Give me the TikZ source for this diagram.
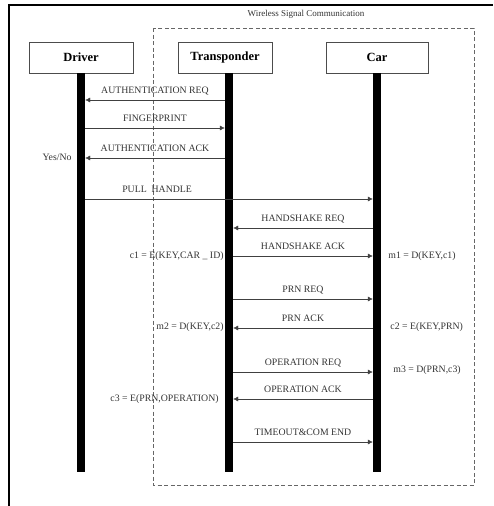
\documentclass[tikz,border=0pt]{standalone}
\usepackage{fontspec}
\setmainfont{Liberation Serif}
\usetikzlibrary{arrows.meta}

\tikzset{
  actor/.style={draw=black!70, thin, minimum height=31pt, font=\fontsize{12.5}{14}\selectfont\bfseries},
  lifeline/.style={fill=black, inner sep=0pt, minimum width=8pt, minimum height=399pt},
  msg/.style={draw=black!75, thin, -{Latex[length=5pt,width=5pt]}},
  lbl/.style={font=\fontsize{9.8}{11}\selectfont, text=black!80, anchor=base, yshift=6.5pt},
  side/.style={font=\fontsize{9.8}{11}\selectfont, text=black!80, inner sep=1pt}
}

\begin{document}
\begin{tikzpicture}[x=1pt, y=-1pt]
    \useasboundingbox (0,0) rectangle (493,506);

    % Frame
    \draw[line width=1.6pt] (9,506) -- (9,5) -- (493,5);

    % Wireless area
    \draw[black!60, dash pattern=on 4pt off 2.5pt, thin] (153,28) rectangle (474,485);
    \node[font=\fontsize{9}{10}\selectfont, text=black!80] (wsc) at (306,14) {Wireless Signal Communication};

    % Actors
    \node[actor, minimum width=104pt] (drv) at (81,57.5) {Driver};
    \node[actor, minimum width=94pt] (trp) at (225,57.5) {Transponder};
    \node[actor, minimum width=102pt] (car) at (377,57.5) {Car};

    % Lifelines
    \node[lifeline] (dl) at (81,272.5) {};
    \node[lifeline] (tl) at (229,272.5) {};
    \node[lifeline] (cl) at (377,272.5) {};

    % Driver <-> Transponder
    \draw[msg] (tl.west |- 0,100) -- (dl.east |- 0,100) node[lbl, midway] {AUTHENTICATION REQ};
    \draw[msg] (dl.east |- 0,128) -- (tl.west |- 0,128) node[lbl, midway] {FINGERPRINT};
    \draw[msg] (tl.west |- 0,158) -- (dl.east |- 0,158) node[lbl, midway] {AUTHENTICATION ACK};
    \node[side, anchor=east] (yn) at ([xshift=-4pt]dl.west |- 0,157) {Yes/No};

    % Driver -> Car
    \draw[msg] (dl.east |- 0,199) -- (cl.west |- 0,199) node[lbl, pos=0.25] {PULL\ \ HANDLE};

    % Transponder <-> Car
    \draw[msg] (cl.west |- 0,228) -- (tl.east |- 0,228) node[lbl, midway] {HANDSHAKE REQ};
    \draw[msg] (tl.east |- 0,256) -- (cl.west |- 0,256) node[lbl, midway] {HANDSHAKE ACK};
    \node[side, anchor=east] (c1) at (tl.west |- 0,256) {c1 = E(KEY,CAR \_ ID)};
    \node[side, anchor=west] (m1) at ([xshift=6pt]cl.east |- 0,256) {m1 = D(KEY,c1)};

    \draw[msg] (tl.east |- 0,299) -- (cl.west |- 0,299) node[lbl, midway] {PRN REQ};
    \draw[msg] (cl.west |- 0,328) -- (tl.east |- 0,328) node[lbl, midway] {PRN ACK};
    \node[side, anchor=east] (m2) at (tl.west |- 0,327) {m2 = D(KEY,c2)};
    \node[side, anchor=west] (c2) at ([xshift=8pt]cl.east |- 0,327) {c2 = E(KEY,PRN)};

    \draw[msg] (tl.east |- 0,372) -- (cl.west |- 0,372) node[lbl, midway] {OPERATION REQ};
    \node[side, anchor=west] (m3) at ([xshift=11pt]cl.east |- 0,370) {m3 = D(PRN,c3)};
    \draw[msg] (cl.west |- 0,399) -- (tl.east |- 0,399) node[lbl, midway] {OPERATION ACK};
    \node[side, anchor=east] (c3) at ([xshift=-5pt]tl.west |- 0,399) {c3 = E(PRN,OPERATION)};

    \draw[msg] (tl.east |- 0,442) -- (cl.west |- 0,442) node[lbl, midway] {TIMEOUT\&COM END};

\end{tikzpicture}
\end{document}
